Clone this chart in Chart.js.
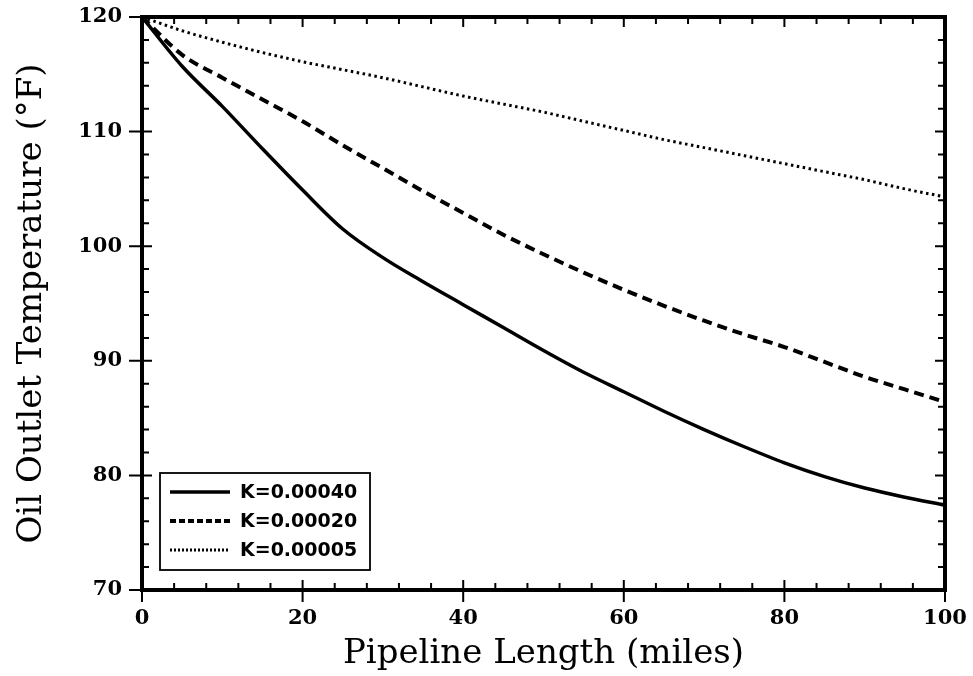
<!DOCTYPE html>
<html>
<head>
<meta charset="utf-8">
<script src="https://cdn.jsdelivr.net/npm/chart.js@4.4.0/dist/chart.umd.min.js"></script>
<style>
    html, body { margin: 0; padding: 0; background: #fff; }
</style>
</head>
<body>
<canvas id="tempChart" width="973" height="676"></canvas>
<script>
const miles = [0, 5, 10, 15, 20, 25, 30, 35, 40, 45, 50, 55, 60, 65, 70, 75, 80, 85, 90, 95, 100];
const tempK40 = [120, 115.7, 112.2, 108.5, 104.9, 101.5, 99.0, 96.9, 94.9, 92.9, 90.9, 89.0, 87.3, 85.6, 84.0, 82.5, 81.1, 79.9, 78.9, 78.1, 77.4];
const tempK20 = [120, 116.7, 114.7, 112.8, 110.9, 108.8, 106.8, 104.8, 102.9, 101.0, 99.3, 97.7, 96.2, 94.8, 93.5, 92.3, 91.2, 89.9, 88.6, 87.5, 86.4];
const tempK05 = [120, 118.8, 117.8, 116.9, 116.1, 115.4, 114.7, 113.9, 113.1, 112.4, 111.7, 110.9, 110.1, 109.3, 108.6, 107.9, 107.2, 106.5, 105.8, 105.0, 104.3];
const seriesLabels = ['K=0.00040', 'K=0.00020', 'K=0.00005'];
const xTicks = [0, 20, 40, 60, 80, 100];
const yTicks = [70, 80, 90, 100, 110, 120];

const lineStyles = [
    { width: 3.5, dash: [] },
    { width: 4, dash: [10, 6] },
    { width: 3, dash: [2.5, 3.5] }
];

function toPoints(ys) {
    return miles.map((m, i) => ({ x: m, y: ys[i] }));
}

// frame + inward/outward ticks like the printed figure
const frameTicks = {
    id: 'frameTicks',
    afterDraw(chart) {
        const ctx = chart.ctx;
        const a = chart.chartArea;
        const xs = chart.scales.x, ys = chart.scales.y;
        ctx.save();
        ctx.strokeStyle = '#000';
        ctx.lineWidth = 2;
        for (let v = 0; v <= 100; v += 4) {
            const px = xs.getPixelForValue(v);
            const major = v % 20 === 0;
            ctx.beginPath();
            ctx.moveTo(px, a.bottom + (major ? 12 : 0));
            ctx.lineTo(px, a.bottom - (major ? 10 : 7));
            ctx.moveTo(px, a.top);
            ctx.lineTo(px, a.top + (major ? 10 : 7));
            ctx.stroke();
        }
        for (let v = 70; v <= 120; v += 2) {
            const py = ys.getPixelForValue(v);
            const major = v % 10 === 0;
            ctx.beginPath();
            ctx.moveTo(a.left - (major ? 13 : 0), py);
            ctx.lineTo(a.left + (major ? 10 : 7), py);
            ctx.moveTo(a.right, py);
            ctx.lineTo(a.right - (major ? 10 : 7), py);
            ctx.stroke();
        }
        ctx.lineWidth = 4;
        ctx.strokeRect(a.left, a.top, a.right - a.left, a.bottom - a.top);

        // legend box
        const bx = a.left + 18, by = a.top + 456, bw = 210, bh = 97;
        ctx.lineWidth = 1.8;
        ctx.fillStyle = '#fff';
        ctx.fillRect(bx, by, bw, bh);
        ctx.strokeRect(bx, by, bw, bh);
        ctx.font = 'bold 19px "DejaVu Sans"';
        ctx.fillStyle = '#000';
        ctx.textBaseline = 'middle';
        chart.data.datasets.forEach((ds, i) => {
            const ry = by + 19 + i * 29;
            ctx.beginPath();
            ctx.lineWidth = ds.borderWidth;
            ctx.setLineDash(i === 1 ? [6, 3] : (i === 2 ? [2, 2] : []));
            ctx.moveTo(bx + 10, ry);
            ctx.lineTo(bx + 70, ry);
            ctx.stroke();
            ctx.setLineDash([]);
            ctx.fillText(ds.label, bx + 80, ry + 1);
        });
        ctx.restore();
    }
};

new Chart(document.getElementById('tempChart'), {
    type: 'line',
    data: {
        datasets: [tempK40, tempK20, tempK05].map((ys, i) => ({
            label: seriesLabels[i],
            data: toPoints(ys),
            borderColor: '#000',
            borderWidth: lineStyles[i].width,
            borderDash: lineStyles[i].dash,
            pointRadius: 0,
            cubicInterpolationMode: 'monotone',
            fill: false
        }))
    },
    options: {
        responsive: false,
        devicePixelRatio: 1,
        animation: false,
        layout: { padding: { left: 8, top: 17, right: 28, bottom: 0 } },
        plugins: { legend: { display: false }, tooltip: { enabled: false } },
        scales: {
            x: {
                type: 'linear',
                min: 0, max: 100,
                afterBuildTicks: s => { s.ticks = xTicks.map(v => ({ value: v })); },
                afterFit: s => { s.height = 86; s.paddingLeft = 0; s.paddingRight = 0; },
                grid: { display: false, drawTicks: false },
                border: { display: false },
                ticks: { color: '#000', padding: 16, font: { family: 'DejaVu Serif', weight: 'bold', size: 21 } },
                title: { display: true, text: 'Pipeline Length (miles)', color: '#000', padding: { top: 0, bottom: 1 }, font: { family: 'DejaVu Serif', size: 34 } }
            },
            y: {
                min: 70, max: 120,
                afterBuildTicks: s => { s.ticks = yTicks.map(v => ({ value: v })); },
                afterFit: s => { s.width = 134; s.paddingTop = 0; s.paddingBottom = 0; },
                grid: { display: false, drawTicks: false },
                border: { display: false },
                ticks: { color: '#000', padding: 20, font: { family: 'DejaVu Serif', weight: 'bold', size: 21 } },
                title: { display: true, text: 'Oil Outlet Temperature (°F)', color: '#000', font: { family: 'DejaVu Serif', size: 34 } }
            }
        }
    },
    plugins: [frameTicks]
});
</script>
</body>
</html>
